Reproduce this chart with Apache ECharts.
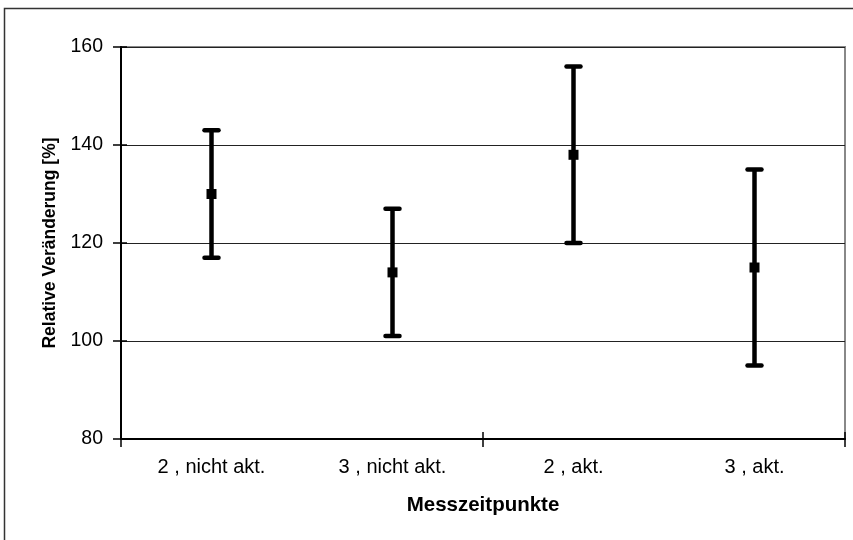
<!DOCTYPE html>
<html><head><meta charset="utf-8">
<script src="https://cdn.jsdelivr.net/npm/echarts@6/dist/echarts.min.js"></script>
<style>html,body{margin:0;padding:0;background:#fff}#c{width:853px;height:540px}</style>
</head><body><div id="c"></div>
<script>
const categories = ['2 , nicht akt.', '3 , nicht akt.', '2 , akt.', '3 , akt.'];
const means = [130, 114, 138, 115];
const upper = [143, 127, 156, 135];
const lower = [117, 101, 120, 95];
const yTicks = [80, 100, 120, 140, 160];

const chart = echarts.init(document.getElementById('c'));
const font = 'Liberation Sans, Arial, sans-serif';
const errData = categories.map((c, i) => [i, lower[i], upper[i]]);
const tickStyle = {color: '#000', width: 1.5};
chart.setOption({
  animation: false,
  graphic: [{type: 'rect', shape: {x: 4.5, y: 8.5, width: 900, height: 600}, style: {fill: 'none', stroke: '#333', lineWidth: 1.5}, z: -10}],
  grid: {left: 121, right: 8, top: 47, bottom: 101, show: true, borderColor: '#888', borderWidth: 2, backgroundColor: 'transparent'},
  xAxis: [{
    type: 'category', data: categories,
    axisLine: {lineStyle: {color: '#000', width: 2}},
    axisTick: {show: true, interval: 1, length: 8, lineStyle: tickStyle},
    axisLabel: {color: '#000', fontFamily: font, fontSize: 20, margin: 18},
    name: 'Messzeitpunkte', nameLocation: 'middle', nameGap: 56,
    nameTextStyle: {color: '#000', fontFamily: font, fontSize: 20.5, fontWeight: 'bold'}
  }, {
    type: 'category', data: categories, position: 'bottom',
    axisLine: {show: false}, axisLabel: {show: false},
    axisTick: {show: true, inside: true, interval: 1, length: 7, lineStyle: tickStyle}
  }],
  yAxis: [{
    type: 'value', min: yTicks[0], max: yTicks[yTicks.length - 1], interval: 20,
    axisLine: {show: true, lineStyle: {color: '#000', width: 2}},
    axisTick: {show: true, length: 8, lineStyle: tickStyle},
    axisLabel: {color: '#000', fontFamily: font, fontSize: 19.5, margin: 18},
    splitLine: {show: true, lineStyle: {color: '#222', width: 1}},
    name: 'Relative Veränderung [%]', nameLocation: 'middle', nameGap: 60, nameRotate: 90,
    nameTextStyle: {color: '#000', fontFamily: font, fontSize: 17.5, fontWeight: 'bold'}
  }, {
    type: 'value', min: yTicks[0], max: yTicks[yTicks.length - 1], interval: 20, position: 'left',
    axisLine: {show: false}, axisLabel: {show: false}, splitLine: {show: false},
    axisTick: {show: true, inside: true, length: 6, lineStyle: tickStyle}
  }],
  series: [{
    type: 'custom',
    data: errData,
    renderItem: function (params, api) {
      const x = api.coord([api.value(0), api.value(1)])[0];
      const lo = api.coord([api.value(0), api.value(1)])[1];
      const hi = api.coord([api.value(0), api.value(2)])[1];
      const w = 7;
      const st = {stroke: '#000', lineWidth: 4.5, lineCap: 'round'};
      return {type: 'group', children: [
        {type: 'line', shape: {x1: x, y1: lo, x2: x, y2: hi}, style: {stroke: '#000', lineWidth: 4.5}},
        {type: 'line', shape: {x1: x - w, y1: hi, x2: x + w, y2: hi}, style: st},
        {type: 'line', shape: {x1: x - w, y1: lo, x2: x + w, y2: lo}, style: st}
      ]};
    },
    z: 3
  }, {
    type: 'scatter', data: means, symbol: 'rect', symbolSize: 10,
    itemStyle: {color: '#000', opacity: 1}, z: 4
  }]
});
</script></body></html>
